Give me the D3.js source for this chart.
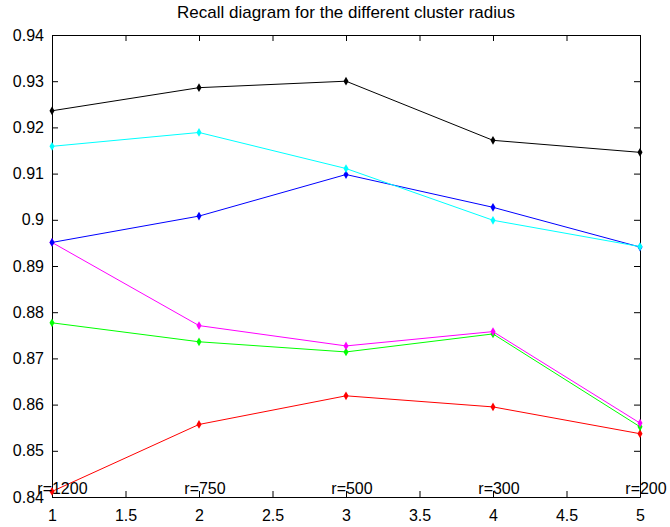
<!DOCTYPE html>
<html>
<head>
<meta charset="utf-8">
<script src="https://d3js.org/d3.v7.min.js"></script>
<style>
  body { margin: 0; background: #fff; }
  text { font-family: "Liberation Sans", Arial, sans-serif; fill: #000; }
</style>
</head>
<body>
<div id="chart"></div>
<script>
// cluster index on x axis
var xs = [1, 2, 3, 4, 5];
var radiusLabels = ["r=1200", "r=750", "r=500", "r=300", "r=200"];

// recall values per series
var redVals     = [0.8412, 0.8557, 0.8619, 0.8595, 0.8537];
var greenVals   = [0.8777, 0.8736, 0.8714, 0.8753, 0.8552];
var magentaVals = [0.8951, 0.8771, 0.8727, 0.8758, 0.8560];
var blueVals    = [0.8951, 0.9008, 0.9098, 0.9027, 0.8941];
var cyanVals    = [0.9159, 0.9189, 0.9111, 0.8999, 0.8942];
var blackVals   = [0.9236, 0.9286, 0.9300, 0.9172, 0.9146];

var xTicks = [1, 1.5, 2, 2.5, 3, 3.5, 4, 4.5, 5];
var yTicks = [0.84, 0.85, 0.86, 0.87, 0.88, 0.89, 0.9, 0.91, 0.92, 0.93, 0.94];

var series = [
  { color: "#ff0000", values: redVals },
  { color: "#00ff00", values: greenVals },
  { color: "#ff00ff", values: magentaVals },
  { color: "#0000ff", values: blueVals },
  { color: "#00ffff", values: cyanVals },
  { color: "#000000", values: blackVals }
];

var width = 670,
    height = 527,
    margin = { top: 35, right: 30, bottom: 30, left: 52 };

var svg = d3.select("#chart")
    .append("svg")
    .attr("width", width)
    .attr("height", height);

var x = d3.scaleLinear().domain([1, 5]).range([margin.left, width - margin.right]);
var y = d3.scaleLinear().domain([0.84, 0.94]).range([height - margin.bottom, margin.top]);

var tickLen = 6;

/* title */
svg.append("text")
    .attr("x", (x.range()[0] + x.range()[1]) / 2)
    .attr("y", 14)
    .attr("text-anchor", "middle")
    .attr("dominant-baseline", "middle")
    .style("font-size", "17px")
    .text("Recall diagram for the different cluster radius");

/* axes, matlab style: box with inward ticks */
var bottomAxis = d3.axisBottom(x).tickValues(xTicks).tickSizeInner(-tickLen).tickSizeOuter(0)
    .tickPadding(10).tickFormat(d3.format("~g"));
var topAxis = d3.axisTop(x).tickValues(xTicks).tickSizeInner(-tickLen).tickSizeOuter(0).tickFormat("");
var leftAxis = d3.axisLeft(y).tickValues(yTicks).tickSizeInner(-tickLen).tickSizeOuter(0)
    .tickPadding(10).tickFormat(d3.format("~g"));
var rightAxis = d3.axisRight(y).tickValues(yTicks).tickSizeInner(-tickLen).tickSizeOuter(0).tickFormat("");

var gb = svg.append("g").attr("transform", "translate(0," + y(0.84) + ")").call(bottomAxis);
var gt = svg.append("g").attr("transform", "translate(0," + y(0.94) + ")").call(topAxis);
var gl = svg.append("g").attr("transform", "translate(" + x(1) + ",0)").call(leftAxis);
var gr = svg.append("g").attr("transform", "translate(" + x(5) + ",0)").call(rightAxis);

[gb, gt, gl, gr].forEach(function(g) {
  g.selectAll("path, line").attr("stroke", "#000").attr("stroke-width", 1);
  g.selectAll("text").style("font-size", "16px").attr("fill", "#000")
      .style("font-family", "'Liberation Sans', Arial, sans-serif");
});
gb.selectAll("text").attr("dy", "0.9em");
gl.selectAll("text").attr("dx", "2px");

/* lines */
var line = d3.line()
    .x(function(d, i) { return x(xs[i]); })
    .y(function(d) { return y(d); });

var diamond = d3.symbol().type(d3.symbolDiamond).size(22);

series.forEach(function(s) {
  svg.append("path")
      .datum(s.values)
      .attr("fill", "none")
      .attr("stroke", s.color)
      .attr("stroke-width", 1)
      .attr("d", line);

  svg.append("g")
    .selectAll("path")
    .data(s.values)
    .enter().append("path")
      .attr("d", diamond)
      .attr("fill", s.color)
      .attr("transform", function(d, i) { return "translate(" + x(xs[i]) + "," + y(d) + ")"; });
});

/* radius labels sitting on the bottom axis */
svg.append("g")
  .selectAll("text")
  .data(radiusLabels)
  .enter().append("text")
    .attr("x", function(d, i) { return x(xs[i] - 0.1); })
    .attr("y", y(0.8415))
    .attr("dominant-baseline", "middle")
    .style("font-size", "16px")
    .text(function(d) { return d; });
</script>
</body>
</html>
